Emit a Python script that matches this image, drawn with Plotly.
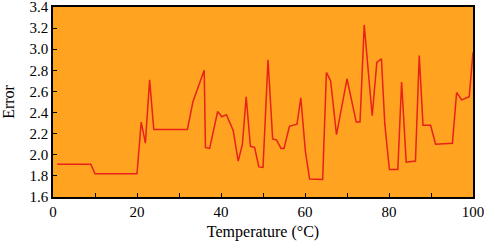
import plotly.graph_objects as go

temperature = [1, 9, 10, 20, 21, 22, 23, 24, 32, 33.3, 36, 36.3, 37.3, 39.2, 40.2, 41.3, 42.9, 44.1,
               45.1, 46, 47, 48, 49, 50, 51.2, 52.3, 53.2, 54.3, 55, 56.3, 58.1, 59, 60.1, 61.1, 64.2,
               65.1, 66.1, 67.5, 70, 72.2, 73.1, 74.1, 76, 77.1, 78.2, 79, 80.1, 82.1, 83, 84.1, 86.3,
               87.2, 88.1, 89.9, 91.1, 95.1, 96.1, 97.3, 99.1, 100]
error = [1.91, 1.91, 1.82, 1.82, 2.31, 2.11, 2.71, 2.24, 2.24, 2.50, 2.80, 2.07, 2.06, 2.41, 2.36, 2.38,
         2.23, 1.94, 2.10, 2.55, 2.08, 2.07, 1.885, 1.88, 2.90, 2.15, 2.14, 2.06, 2.06, 2.27, 2.29, 2.54,
         2.03, 1.77, 1.765, 2.78, 2.70, 2.19, 2.72, 2.31, 2.31, 3.23, 2.37, 2.875, 2.91, 2.29, 1.86, 1.86,
         2.69, 1.93, 1.94, 2.94, 2.28, 2.28, 2.10, 2.11, 2.59, 2.52, 2.55, 2.97]

x_tick_vals = [0, 20, 40, 60, 80, 100]
y_tick_vals = [1.6, 1.8, 2.0, 2.2, 2.4, 2.6, 2.8, 3.0, 3.2, 3.4]

fig = go.Figure(go.Scatter(x=temperature, y=error, mode="lines",
                           line=dict(color="#E8211B", width=1.5)))

font = dict(family="Liberation Serif, Times New Roman, serif", size=15, color="black")
fig.update_layout(
    width=484, height=245,
    margin=dict(l=53, r=11, t=7, b=48, autoexpand=False),
    paper_bgcolor="white", plot_bgcolor="#FFA320",
    font=font, showlegend=False,
)
fig.update_xaxes(
    range=[0, 100], tickvals=x_tick_vals, ticks="inside", ticklen=4, tickcolor="black",
    minor=dict(dtick=10, ticks="inside", ticklen=4, tickcolor="black"),
    showline=True, linecolor="black", linewidth=1.5, mirror=True, showgrid=False, zeroline=False,
    automargin=False, ticklabeloverflow="allow",
    title=dict(text="Temperature (°C)", font=dict(size=16), standoff=7),
)
fig.update_yaxes(
    range=[1.6, 3.4], tickvals=y_tick_vals, tickformat=".1f", ticks="inside", ticklen=4,
    tickcolor="black", showline=True, linecolor="black", linewidth=1.5, mirror=True,
    showgrid=False, zeroline=False, automargin=False, ticklabeloverflow="allow",
    title=dict(text="Error", font=dict(size=16), standoff=12),
)
fig.write_html("out.html", config={"displayModeBar": False},
               post_script="document.body.style.margin='0';")
